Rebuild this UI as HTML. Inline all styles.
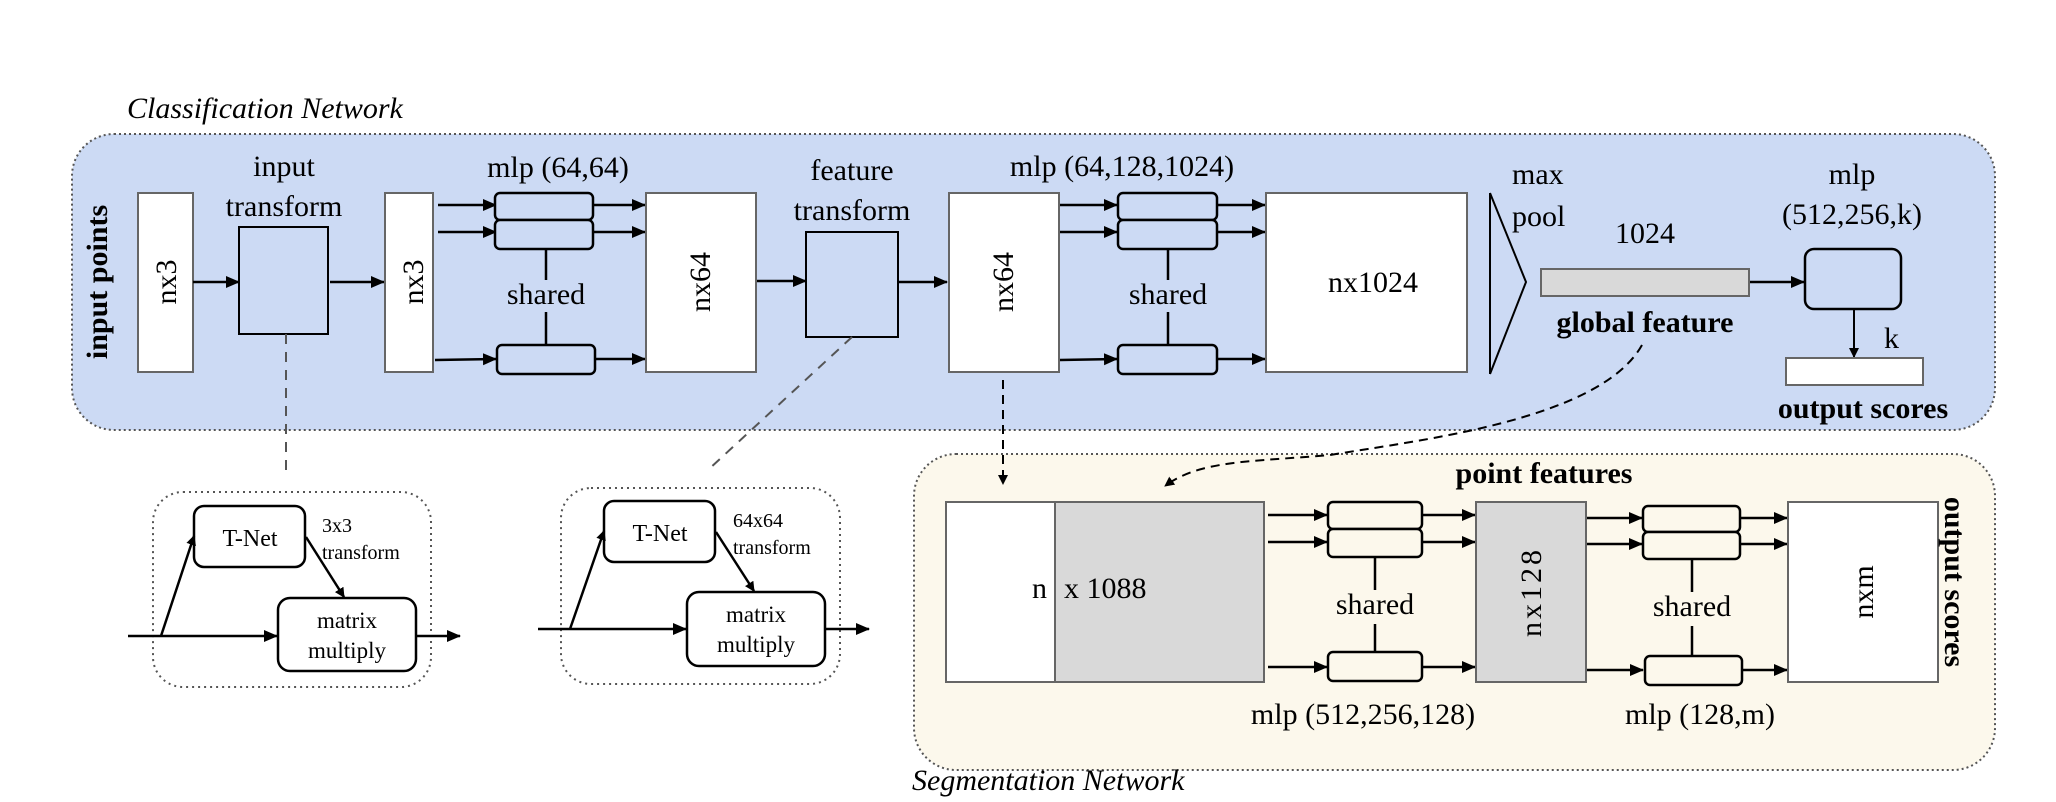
<!DOCTYPE html>
<html><head><meta charset="utf-8"><style>
html,body{margin:0;padding:0;background:#fff;}
svg{display:block}
text{font-family:"Liberation Serif",serif;fill:#000}
.t{font-size:30px}
.b{font-weight:bold}
.i{font-style:italic}
</style></head><body>
<svg width="2056" height="802" viewBox="0 0 2056 802" xmlns="http://www.w3.org/2000/svg">
<defs>
<marker id="a" markerWidth="10" markerHeight="10" refX="9" refY="5" orient="auto" markerUnits="userSpaceOnUse" viewBox="0 0 10 10"><path d="M0,0 L10,5 L0,10 z" fill="#000"/></marker>
<marker id="s" markerWidth="14" markerHeight="14" refX="13" refY="7" orient="auto" markerUnits="userSpaceOnUse" viewBox="0 0 14 14"><path d="M0,1 L14,7 L0,13 z" fill="#000"/></marker>
</defs>

<!-- Classification -->
<text x="127" y="118" class="t i" font-size="30">Classification Network</text>
<rect x="72" y="134" width="1923" height="296" rx="42" fill="#ccdaf4" stroke="#555" stroke-width="2" stroke-dasharray="2,3"/>
<text class="b" font-size="30" transform="translate(107,282) rotate(-90)" text-anchor="middle">input points</text>

<rect x="138" y="193" width="55" height="179" fill="#fff" stroke="#666" stroke-width="2"/>
<text class="t" transform="translate(176,282) rotate(-90)" text-anchor="middle">nx3</text>
<line x1="193" y1="282" x2="239" y2="282" stroke="#000" stroke-width="2.5" marker-end="url(#s)"/>
<text x="284" y="176" class="t" text-anchor="middle">input</text>
<text x="284" y="216" class="t" text-anchor="middle">transform</text>
<rect x="239" y="227" width="89" height="107" fill="#ccdaf4" stroke="#000" stroke-width="2"/>
<line x1="330" y1="282" x2="384" y2="282" stroke="#000" stroke-width="2.5" marker-end="url(#s)"/>
<rect x="385" y="193" width="48" height="179" fill="#fff" stroke="#666" stroke-width="2"/>
<text class="t" transform="translate(423,282) rotate(-90)" text-anchor="middle">nx3</text>

<text x="558" y="177" class="t" text-anchor="middle">mlp (64,64)</text>
<g stroke="#000" stroke-width="2.5" fill="none">
<line x1="438" y1="205" x2="496" y2="205" marker-end="url(#s)"/>
<line x1="438" y1="232" x2="496" y2="232" marker-end="url(#s)"/>
<line x1="435" y1="360" x2="496" y2="359" marker-end="url(#s)"/>
<line x1="594" y1="205" x2="645" y2="205" marker-end="url(#s)"/>
<line x1="594" y1="232" x2="645" y2="232" marker-end="url(#s)"/>
<line x1="596" y1="359" x2="645" y2="359" marker-end="url(#s)"/>
<rect x="495" y="193" width="98" height="27" rx="5" fill="#ccdaf4"/>
<rect x="495" y="220" width="98" height="29" rx="5" fill="#ccdaf4"/>
<rect x="497" y="345" width="98" height="29" rx="5" fill="#ccdaf4"/>
<line x1="546" y1="249" x2="546" y2="280"/>
<line x1="546" y1="312" x2="546" y2="345"/>
</g>
<text x="546" y="304" class="t" text-anchor="middle">shared</text>

<rect x="646" y="193" width="110" height="179" fill="#fff" stroke="#666" stroke-width="2"/>
<text class="t" transform="translate(710,282) rotate(-90)" text-anchor="middle">nx64</text>
<line x1="757" y1="281" x2="806" y2="281" stroke="#000" stroke-width="2.5" marker-end="url(#s)"/>
<text x="852" y="180" class="t" text-anchor="middle">feature</text>
<text x="852" y="220" class="t" text-anchor="middle">transform</text>
<rect x="806" y="232" width="92" height="105" fill="#ccdaf4" stroke="#000" stroke-width="2"/>
<line x1="898" y1="282" x2="947" y2="282" stroke="#000" stroke-width="2.5" marker-end="url(#s)"/>
<rect x="949" y="193" width="110" height="179" fill="#fff" stroke="#666" stroke-width="2"/>
<text class="t" transform="translate(1013,282) rotate(-90)" text-anchor="middle">nx64</text>

<text x="1122" y="176" class="t" text-anchor="middle">mlp (64,128,1024)</text>
<g stroke="#000" stroke-width="2.5" fill="none">
<line x1="1060" y1="205" x2="1117" y2="205" marker-end="url(#s)"/>
<line x1="1060" y1="232" x2="1117" y2="232" marker-end="url(#s)"/>
<line x1="1060" y1="360" x2="1117" y2="359" marker-end="url(#s)"/>
<line x1="1218" y1="205" x2="1265" y2="205" marker-end="url(#s)"/>
<line x1="1218" y1="232" x2="1265" y2="232" marker-end="url(#s)"/>
<line x1="1218" y1="359" x2="1265" y2="359" marker-end="url(#s)"/>
<rect x="1118" y="193" width="99" height="27" rx="5" fill="#ccdaf4"/>
<rect x="1118" y="220" width="99" height="29" rx="5" fill="#ccdaf4"/>
<rect x="1118" y="345" width="99" height="29" rx="5" fill="#ccdaf4"/>
<line x1="1168" y1="249" x2="1168" y2="280"/>
<line x1="1168" y1="312" x2="1168" y2="345"/>
</g>
<text x="1168" y="304" class="t" text-anchor="middle">shared</text>
<rect x="1266" y="193" width="201" height="179" fill="#fff" stroke="#666" stroke-width="2"/>
<text x="1373" y="292" class="t" text-anchor="middle">nx1024</text>

<path d="M1490,193 L1490,374 M1490,193 L1526,282 L1490,374" fill="none" stroke="#000" stroke-width="2"/>
<text x="1512" y="184" class="t">max</text>
<text x="1512" y="226" class="t">pool</text>
<text x="1645" y="243" class="t" text-anchor="middle">1024</text>
<rect x="1541" y="269" width="208" height="27" fill="#d9d9d9" stroke="#666" stroke-width="2"/>
<text x="1645" y="332" class="b" font-size="30" text-anchor="middle">global feature</text>
<line x1="1750" y1="282" x2="1804" y2="282" stroke="#000" stroke-width="2.5" marker-end="url(#s)"/>
<text x="1852" y="184" class="t" text-anchor="middle">mlp</text>
<text x="1852" y="224" class="t" text-anchor="middle">(512,256,k)</text>
<rect x="1805" y="249" width="96" height="60" rx="9" fill="#ccdaf4" stroke="#000" stroke-width="2.5"/>
<line x1="1854" y1="309" x2="1854" y2="357" stroke="#000" stroke-width="2" marker-end="url(#a)"/>
<text x="1884" y="348" class="t">k</text>
<rect x="1786" y="358" width="137" height="27" fill="#fff" stroke="#666" stroke-width="2"/>
<text x="1863" y="418" class="b" font-size="30" text-anchor="middle">output scores</text>

<g stroke="#555" stroke-width="2" stroke-dasharray="10,8" fill="none">
<line x1="286" y1="334" x2="286" y2="470"/>
<line x1="852" y1="337" x2="708" y2="470"/>
</g>

<!-- T-Net box 1 -->
<rect x="153" y="492" width="278" height="195" rx="30" fill="none" stroke="#555" stroke-width="2" stroke-dasharray="2,4"/>
<rect x="194" y="506" width="111" height="61" rx="10" fill="#fff" stroke="#000" stroke-width="2.5"/>
<text x="250" y="546" font-size="24" text-anchor="middle">T-Net</text>
<text x="322" y="532" font-size="20">3x3</text>
<text x="322" y="559" font-size="20">transform</text>
<rect x="278" y="598" width="138" height="73" rx="12" fill="#fff" stroke="#000" stroke-width="2.5"/>
<text x="347" y="628" font-size="23" text-anchor="middle">matrix</text>
<text x="347" y="658" font-size="23" text-anchor="middle">multiply</text>
<g stroke="#000" stroke-width="2.5" fill="none">
<line x1="128" y1="636" x2="277" y2="636" marker-end="url(#s)"/>
<line x1="161" y1="636" x2="194" y2="536" marker-end="url(#a)"/>
<line x1="306" y1="537" x2="344" y2="597" marker-end="url(#a)"/>
<line x1="416" y1="636" x2="460" y2="636" marker-end="url(#s)"/>
</g>

<!-- T-Net box 2 -->
<rect x="561" y="488" width="279" height="196" rx="30" fill="none" stroke="#555" stroke-width="2" stroke-dasharray="2,4"/>
<rect x="604" y="501" width="111" height="61" rx="10" fill="#fff" stroke="#000" stroke-width="2.5"/>
<text x="660" y="541" font-size="24" text-anchor="middle">T-Net</text>
<text x="733" y="527" font-size="20">64x64</text>
<text x="733" y="554" font-size="20">transform</text>
<rect x="687" y="592" width="138" height="74" rx="12" fill="#fff" stroke="#000" stroke-width="2.5"/>
<text x="756" y="622" font-size="23" text-anchor="middle">matrix</text>
<text x="756" y="652" font-size="23" text-anchor="middle">multiply</text>
<g stroke="#000" stroke-width="2.5" fill="none">
<line x1="538" y1="629" x2="686" y2="629" marker-end="url(#s)"/>
<line x1="570" y1="629" x2="604" y2="531" marker-end="url(#a)"/>
<line x1="716" y1="532" x2="754" y2="591" marker-end="url(#a)"/>
<line x1="825" y1="629" x2="869" y2="629" marker-end="url(#s)"/>
</g>

<!-- Segmentation -->
<rect x="914" y="454" width="1081" height="316" rx="42" fill="#fcf8ec" stroke="#555" stroke-width="2" stroke-dasharray="2,3"/>
<text x="912" y="790" class="i" font-size="30">Segmentation Network</text>
<text x="1544" y="483" class="b" font-size="30" text-anchor="middle">point features</text>
<rect x="946" y="502" width="109" height="180" fill="#fff" stroke="#666" stroke-width="2"/>
<rect x="1055" y="502" width="209" height="180" fill="#d9d9d9" stroke="#666" stroke-width="2"/>
<text x="1047" y="598" class="t" text-anchor="end">n</text>
<text x="1064" y="598" class="t">x 1088</text>

<g stroke="#000" stroke-width="2.5" fill="none">
<line x1="1268" y1="515" x2="1327" y2="515" marker-end="url(#s)"/>
<line x1="1268" y1="542" x2="1327" y2="542" marker-end="url(#s)"/>
<line x1="1268" y1="667" x2="1327" y2="667" marker-end="url(#s)"/>
<line x1="1423" y1="515" x2="1475" y2="515" marker-end="url(#s)"/>
<line x1="1423" y1="542" x2="1475" y2="542" marker-end="url(#s)"/>
<line x1="1423" y1="667" x2="1475" y2="667" marker-end="url(#s)"/>
<rect x="1328" y="502" width="94" height="27" rx="5" fill="#fcf8ec"/>
<rect x="1328" y="529" width="94" height="28" rx="5" fill="#fcf8ec"/>
<rect x="1328" y="652" width="94" height="29" rx="5" fill="#fcf8ec"/>
<line x1="1375" y1="557" x2="1375" y2="590"/>
<line x1="1375" y1="624" x2="1375" y2="652"/>
</g>
<text x="1375" y="614" class="t" text-anchor="middle">shared</text>

<rect x="1476" y="502" width="110" height="180" fill="#d9d9d9" stroke="#666" stroke-width="2"/>
<text class="t" transform="translate(1541,592) rotate(-90)" text-anchor="middle" letter-spacing="3">nx128</text>

<g stroke="#000" stroke-width="2.5" fill="none">
<line x1="1587" y1="518" x2="1642" y2="518" marker-end="url(#s)"/>
<line x1="1587" y1="544" x2="1642" y2="544" marker-end="url(#s)"/>
<line x1="1587" y1="670" x2="1643" y2="670" marker-end="url(#s)"/>
<line x1="1741" y1="518" x2="1787" y2="518" marker-end="url(#s)"/>
<line x1="1741" y1="544" x2="1787" y2="544" marker-end="url(#s)"/>
<line x1="1743" y1="670" x2="1787" y2="670" marker-end="url(#s)"/>
<rect x="1643" y="506" width="97" height="26" rx="5" fill="#fcf8ec"/>
<rect x="1643" y="532" width="97" height="27" rx="5" fill="#fcf8ec"/>
<rect x="1645" y="656" width="97" height="29" rx="5" fill="#fcf8ec"/>
<line x1="1692" y1="559" x2="1692" y2="592"/>
<line x1="1692" y1="626" x2="1692" y2="656"/>
</g>
<text x="1692" y="616" class="t" text-anchor="middle">shared</text>

<rect x="1788" y="502" width="150" height="180" fill="#fff" stroke="#666" stroke-width="2"/>
<text class="t" transform="translate(1873,592) rotate(-90)" text-anchor="middle">nxm</text>
<text class="b" font-size="30" transform="translate(1945,582) rotate(90)" text-anchor="middle">output scores</text>

<text x="1363" y="724" class="t" text-anchor="middle">mlp (512,256,128)</text>
<text x="1700" y="724" class="t" text-anchor="middle">mlp (128,m)</text>

<!-- dashed connectors on top -->
<g stroke="#000" stroke-width="2" stroke-dasharray="9,6" fill="none">
<line x1="1003" y1="380" x2="1003" y2="484" marker-end="url(#a)"/>
<path d="M1642,345 C1600,420 1420,440 1330,455 C1250,462 1200,460 1165,486" marker-end="url(#a)"/>
</g>
</svg>
</body></html>
